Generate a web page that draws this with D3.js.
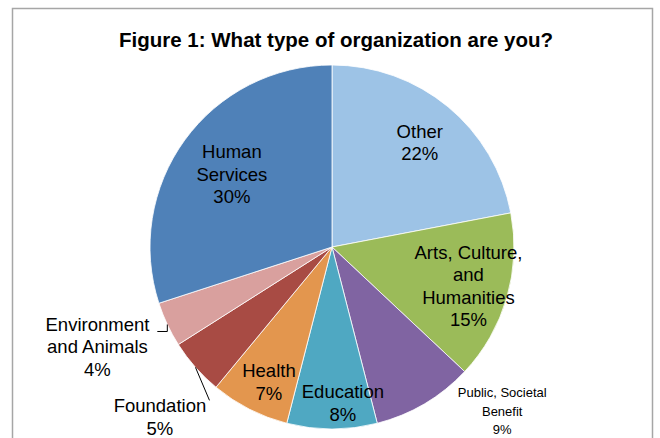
<html>
  <head>
    <meta charset="utf-8">
    <title>What type of organization are you?</title>
    <script src="https://d3js.org/d3.v7.min.js"></script>
    <style>
      body { margin: 0; background: #fff; }
      text { font-family: "Liberation Sans", Arial, sans-serif; fill: #000; }
    </style>
  </head>
  <body>
    <script>
    var width = 660,
        height = 438;

    // data, clockwise from 12 o'clock
    var categories = ["Other", "Arts, Culture, and Humanities", "Public, Societal Benefit",
                      "Education", "Health", "Foundation", "Environment and Animals", "Human Services"];
    var values = [22, 15, 9, 8, 7, 5, 4, 30];
    var labelLines = [["Other", "22%"],
                      ["Arts, Culture,", "and", "Humanities", "15%"],
                      ["Public, Societal", "Benefit", "9%"],
                      ["Education", "8%"],
                      ["Health", "7%"],
                      ["Foundation", "5%"],
                      ["Environment", "and Animals", "4%"],
                      ["Human", "Services", "30%"]];
    var colors = ["#9DC3E6", "#9BBB59", "#8064A2", "#4FA8C2", "#E3964E", "#A84B44", "#D9A09E", "#4F81B8"];

    // label placement: angle (deg from top, clockwise) and radius factor
    var labelPos = [[40, 0.75], [106, 0.78], [134, 1.30], [176, 0.86],
                    [205, 0.82], [225.3, 1.33], [247, 1.40], [306, 0.68]];

    var cx = 332, cy = 247, r = 182;

    var svg = d3.select("body").append("svg")
        .attr("width", width)
        .attr("height", height);

    svg.append("rect")
        .attr("x", 12.5).attr("y", 8.5)
        .attr("width", 640).attr("height", 440)
        .attr("fill", "#fff")
        .attr("stroke", "#a6a6a6")
        .attr("stroke-width", 1.5);

    svg.append("text")
        .attr("x", 336).attr("y", 47)
        .attr("text-anchor", "middle")
        .attr("font-weight", "bold")
        .attr("font-size", "20.5px")
        .text("Figure 1: What type of organization are you?");

    var pie = d3.pie().sort(null).value(function(d){ return d; });
    var arcs = pie(values);
    var arc = d3.arc().innerRadius(0).outerRadius(r);

    var g = svg.append("g").attr("transform", "translate(" + cx + "," + cy + ")");

    g.selectAll("path").data(arcs)
      .enter().append("path")
      .attr("d", arc)
      .attr("fill", function(d, i){ return colors[i]; })
      .attr("stroke", "#fff")
      .attr("stroke-width", 0.8);

    function polar(angleDeg, rad) {
      var a = angleDeg * Math.PI / 180;
      return [rad * Math.sin(a), -rad * Math.cos(a)];
    }

    // leader lines for outside labels
    function midDeg(d) { return (d.startAngle + d.endAngle) / 2 * 180 / Math.PI; }
    var fStart = polar(midDeg(arcs[5]), r);
    g.append("polyline")
      .attr("points", [fStart, [fStart[0] + 14, fStart[1] + 33]].join(" "))
      .attr("fill", "none").attr("stroke", "#000").attr("stroke-width", 1);
    var eStart = polar(midDeg(arcs[6]), r);
    g.append("polyline")
      .attr("points", [eStart, [eStart[0], eStart[1] + 7], [eStart[0] - 10, eStart[1] + 7]].join(" "))
      .attr("fill", "none").attr("stroke", "#000").attr("stroke-width", 1);

    var labels = g.selectAll("g.label").data(arcs)
      .enter().append("g")
      .attr("class", "label")
      .attr("transform", function(d, i){
        var p = polar(labelPos[i][0], r * labelPos[i][1]);
        return "translate(" + p[0] + "," + p[1] + ")";
      });

    labels.each(function(d, i){
      var lines = labelLines[i];
      var small = (i === 2);
      var fs = small ? 13 : 18.5;
      var lh = small ? 18.5 : 22.5;
      var t = d3.select(this).append("text")
        .attr("text-anchor", "middle")
        .attr("font-size", fs + "px");
      lines.forEach(function(s, k){
        t.append("tspan")
          .attr("x", 0)
          .attr("y", (k - (lines.length - 1) / 2) * lh + fs * 0.35)
          .text(s);
      });
    });
    </script>
  </body>
</html>
